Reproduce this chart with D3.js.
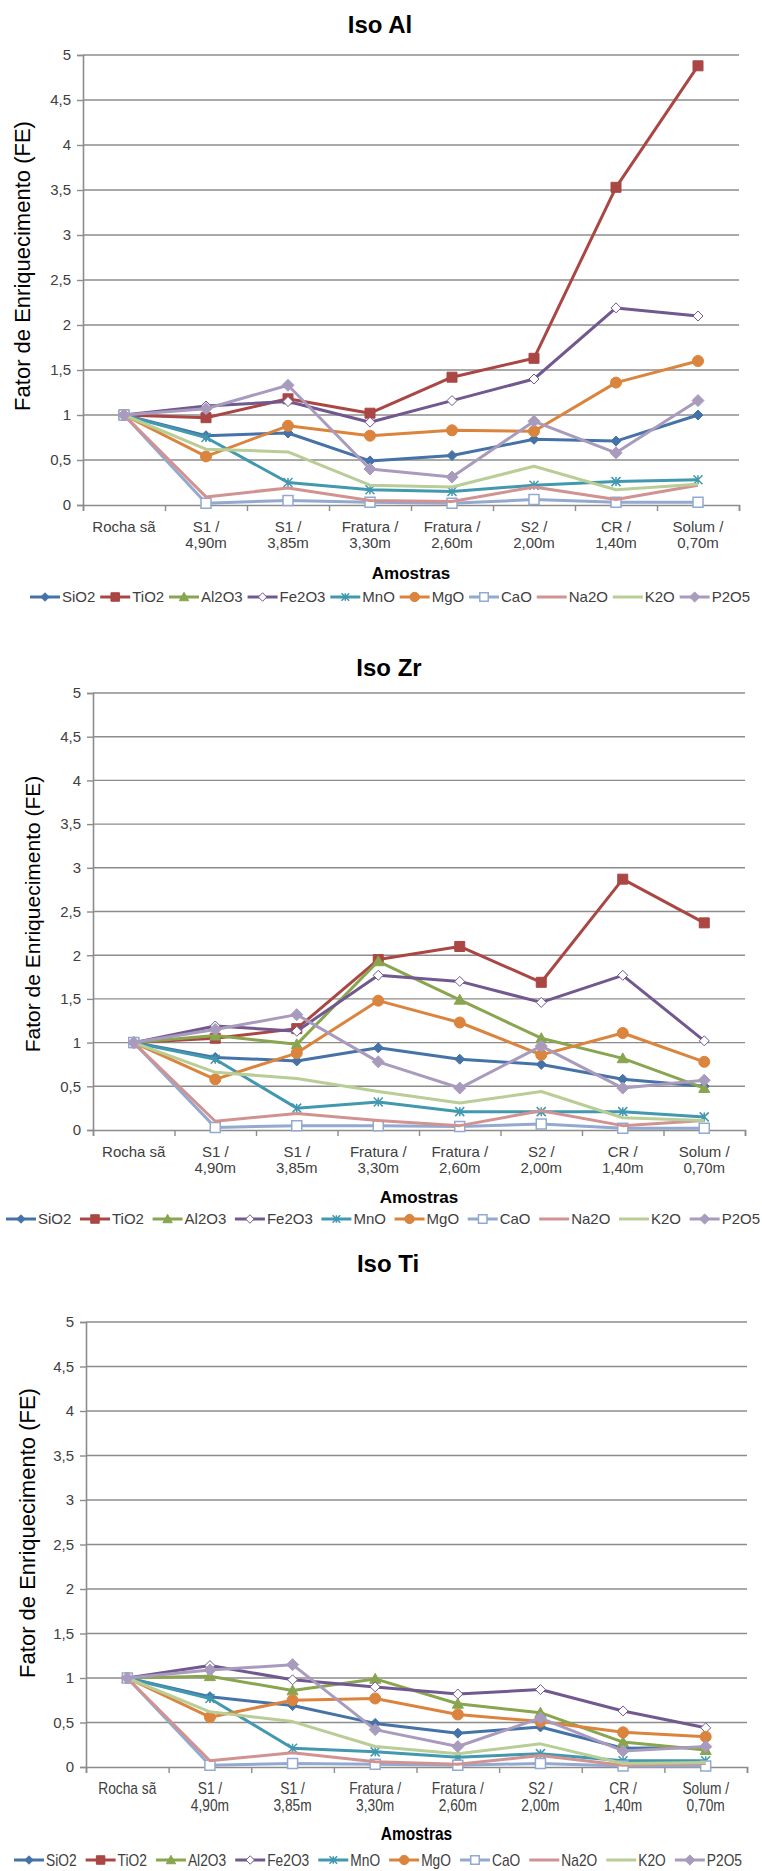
<!DOCTYPE html>
<html>
<head>
<meta charset="utf-8">
<script src="https://cdn.jsdelivr.net/npm/d3@7"></script>
<style>
  body { margin: 0; background: #fff; }
  svg { display: block; }
  text { font-family: "Liberation Sans", Arial, Helvetica, sans-serif; }
</style>
</head>
<body>
<svg id="fig" width="762" height="1871"></svg>
<script>
// ---- data ----
const categories = ["Rocha sã", "S1 /|4,90m", "S1 /|3,85m", "Fratura /|3,30m",
                    "Fratura /|2,60m", "S2 /|2,00m", "CR /|1,40m", "Solum /|0,70m"];
const seriesNames = ["SiO2", "TiO2", "Al2O3", "Fe2O3", "MnO", "MgO", "CaO", "Na2O", "K2O", "P2O5"];
const yTickValues = [0, 0.5, 1, 1.5, 2, 2.5, 3, 3.5, 4, 4.5, 5];
const chartTitles = ["Iso Al", "Iso Zr", "Iso Ti"];
const yAxisTitle = "Fator de Enriquecimento (FE)";
const xAxisTitle = "Amostras";

// enrichment factors, one row per oxide (same order as seriesNames)
const isoAlValues = [
  [1, 0.77, 0.80, 0.49, 0.55, 0.73, 0.71, 1.00],
  [1, 0.97, 1.18, 1.02, 1.42, 1.63, 3.53, 4.88],
  [null, null, null, null, null, null, null, null],
  [1, 1.10, 1.15, 0.92, 1.16, 1.40, 2.19, 2.10],
  [1, 0.75, 0.25, 0.17, 0.15, 0.22, 0.26, 0.28],
  [1, 0.54, 0.88, 0.77, 0.83, 0.82, 1.36, 1.60],
  [1, 0.02, 0.05, 0.03, 0.02, 0.06, 0.03, 0.03],
  [1, 0.09, 0.19, 0.05, 0.04, 0.20, 0.06, 0.22],
  [1, 0.62, 0.59, 0.22, 0.20, 0.43, 0.17, 0.23],
  [1, 1.07, 1.33, 0.40, 0.31, 0.93, 0.58, 1.16]
];
const isoZrValues = [
  [1, 0.83, 0.79, 0.94, 0.81, 0.75, 0.58, 0.50],
  [1, 1.05, 1.16, 1.95, 2.10, 1.69, 2.87, 2.37],
  [1, 1.08, 0.98, 1.93, 1.49, 1.05, 0.82, 0.48],
  [1, 1.19, 1.13, 1.77, 1.70, 1.46, 1.77, 1.02],
  [1, 0.81, 0.25, 0.32, 0.21, 0.21, 0.21, 0.15],
  [1, 0.58, 0.88, 1.48, 1.23, 0.86, 1.11, 0.78],
  [1, 0.03, 0.05, 0.05, 0.04, 0.07, 0.02, 0.02],
  [1, 0.10, 0.19, 0.11, 0.05, 0.22, 0.05, 0.11],
  [1, 0.66, 0.59, 0.44, 0.31, 0.44, 0.14, 0.11],
  [1, 1.15, 1.32, 0.78, 0.48, 0.96, 0.48, 0.57]
];
const isoTiValues = [
  [1, 0.79, 0.69, 0.49, 0.38, 0.45, 0.21, 0.22],
  [null, null, null, null, null, null, null, null],
  [1, 1.02, 0.86, 0.99, 0.71, 0.61, 0.28, 0.19],
  [1, 1.14, 0.98, 0.90, 0.82, 0.87, 0.63, 0.44],
  [1, 0.77, 0.21, 0.17, 0.11, 0.15, 0.07, 0.07],
  [1, 0.56, 0.75, 0.77, 0.59, 0.51, 0.39, 0.34],
  [1, 0.02, 0.04, 0.03, 0.02, 0.04, 0.01, 0.01],
  [1, 0.07, 0.16, 0.06, 0.03, 0.13, 0.02, 0.04],
  [1, 0.62, 0.51, 0.23, 0.15, 0.26, 0.04, 0.05],
  [1, 1.09, 1.15, 0.42, 0.23, 0.55, 0.18, 0.23]
];

// ---- styling ----
const seriesStyle = [
  { color: "#4572A7", marker: "diamond", size: 5,   fill: "color" },
  { color: "#AA4643", marker: "square",  size: 5,   fill: "color" },
  { color: "#89A54E", marker: "triangle",size: 5.5, fill: "color" },
  { color: "#71588F", marker: "diamond", size: 5,   fill: "white", sw: 1 },
  { color: "#4198AF", marker: "star",    size: 4.5, fill: "none",  sw: 1.5 },
  { color: "#DB843D", marker: "circle",  size: 5.5, fill: "color" },
  { color: "#93A9CF", marker: "square",  size: 5,   fill: "white", sw: 1.5 },
  { color: "#D19392", marker: null },
  { color: "#B9CD96", marker: null },
  { color: "#A99BBD", marker: "diamond", size: 6,   fill: "color" }
];

// squeeze = horizontal text compression (1 = normal width)
const layouts = [
  { left: 83, right: 739, top: 55, bottom: 505, titleX: 380, titleY: 25,
    yTitleX: 22, yTitleY: 266, yTitleSize: 22, lab1: 527, lab2: 543,
    xTitleY: 573, legendY: 597, legendX0: 30, legendX1: 750, squeeze: 1, fs: 15 },
  { left: 93, right: 745, top: 693, bottom: 1130, titleX: 389, titleY: 668,
    yTitleX: 33, yTitleY: 914, yTitleSize: 21, lab1: 1152, lab2: 1168,
    xTitleY: 1197, legendY: 1219, legendX0: 6, legendX1: 760, squeeze: 1, fs: 15 },
  { left: 86, right: 747, top: 1322, bottom: 1767, titleX: 388, titleY: 1264,
    yTitleX: 27, yTitleY: 1533, yTitleSize: 22, lab1: 1788, lab2: 1805,
    xTitleY: 1834, legendY: 1860, legendX0: 14, legendX1: 742, squeeze: 0.86, fs: 16 }
];

const GRID = "#8c8c8c";
const svg = d3.select("#fig");

function markerPath(type, s) {
  switch (type) {
    case "diamond":  return `M0,${-s}L${s},0L0,${s}L${-s},0Z`;
    case "square":   return `M${-s},${-s}H${s}V${s}H${-s}Z`;
    case "triangle": return `M0,${-s}L${s},${s * 0.8}L${-s},${s * 0.8}Z`;
    case "circle":   return d3.symbol(d3.symbolCircle, Math.PI * s * s)();
    case "star":     return `M${-s},${-s}L${s},${s}M${-s},${s}L${s},${-s}M0,${-s}L0,${s}`;
  }
  return "";
}

function drawMarker(sel, st) {
  if (!st.marker) return;
  sel.append("path")
    .attr("d", markerPath(st.marker, st.size))
    .attr("fill", st.fill === "color" ? st.color : st.fill)
    .attr("stroke", st.color)
    .attr("stroke-width", st.sw || 1);
}

function drawChart(idx, values) {
  const L = layouts[idx];
  const g = svg.append("g");
  const x = d3.scaleBand().domain(d3.range(categories.length)).range([L.left, L.right]);
  const xEdge = d3.scaleLinear().domain([0, categories.length]).range([L.left, L.right]);
  const y = d3.scaleLinear().domain([0, 5]).range([L.bottom, L.top]);

  // horizontal gridlines
  g.append("g").selectAll("line")
    .data(yTickValues.filter(v => v > 0))
    .join("line")
    .attr("x1", L.left).attr("x2", L.right)
    .attr("y1", d => y(d)).attr("y2", d => y(d))
    .attr("stroke", GRID).attr("stroke-width", 1.4);

  // y axis
  const ya = g.append("g").attr("transform", `translate(${L.left},0)`)
    .call(d3.axisLeft(y).tickValues(yTickValues).tickSize(6).tickPadding(6)
      .tickFormat(d => String(d).replace(".", ",")));
  ya.select(".domain").attr("stroke", GRID).attr("stroke-width", 1.6);
  ya.selectAll(".tick line").attr("stroke", GRID).attr("stroke-width", 1.4);
  ya.selectAll(".tick text").attr("fill", "#404040").attr("font-size", 15)
    .style("font-family", "'Liberation Sans', Arial, sans-serif");

  // x axis (ticks on category boundaries)
  const xa = g.append("g").attr("transform", `translate(0,${L.bottom})`)
    .call(d3.axisBottom(xEdge).tickValues(d3.range(categories.length + 1)).tickSize(6).tickFormat(""));
  xa.select(".domain").attr("stroke", GRID).attr("stroke-width", 1.6);
  xa.selectAll(".tick line").attr("stroke", GRID).attr("stroke-width", 1.4);

  // category labels
  const lab = g.append("g").selectAll("text")
    .data(categories)
    .join("text")
    .attr("transform", (d, i) => `translate(${x(i) + x.bandwidth() / 2},0) scale(${L.squeeze},1)`)
    .attr("text-anchor", "middle")
    .attr("font-size", L.fs)
    .attr("fill", "#404040");
  lab.each(function (d) {
    const t = d3.select(this);
    d.split("|").forEach((p, k) => {
      t.append("tspan")
        .attr("x", 0)
        .attr("y", (k === 0 ? L.lab1 : L.lab2))
        .attr("dy", "0.35em")
        .text(p);
    });
  });

  // series lines then markers
  const line = d3.line()
    .defined(d => d != null)
    .x((d, i) => x(i) + x.bandwidth() / 2)
    .y(d => y(d));

  values.forEach((vals, s) => {
    const st = seriesStyle[s];
    const sg = g.append("g");
    sg.append("path")
      .attr("d", line(vals))
      .attr("fill", "none")
      .attr("stroke", st.color)
      .attr("stroke-width", 3)
      .attr("stroke-linejoin", "round");
    if (st.marker) {
      vals.forEach((v, i) => {
        if (v == null) return;
        const m = sg.append("g").attr("transform", `translate(${x(i) + x.bandwidth() / 2},${y(v)})`);
        drawMarker(m, st);
      });
    }
  });

  // titles
  g.append("text").attr("x", L.titleX).attr("y", L.titleY).attr("dy", "0.35em")
    .attr("text-anchor", "middle").attr("font-size", 24).attr("font-weight", "bold")
    .text(chartTitles[idx]);
  g.append("text")
    .attr("transform", `translate(${L.yTitleX},${L.yTitleY}) rotate(-90)`)
    .attr("dy", "0.35em").attr("text-anchor", "middle")
    .attr("font-size", L.yTitleSize).attr("fill", "#000")
    .text(yAxisTitle);
  g.append("text")
    .attr("transform", `translate(${(L.left + L.right) / 2},${L.xTitleY}) scale(${L.squeeze},1)`)
    .attr("dy", "0.35em")
    .attr("text-anchor", "middle").attr("font-size", L.fs + 2).attr("font-weight", "bold")
    .text(xAxisTitle);

  // legend
  const leg = g.append("g");
  const items = seriesNames.map((name, s) => {
    const it = leg.append("g");
    const st = seriesStyle[s];
    it.append("line").attr("x1", 0).attr("x2", 30).attr("y1", 0).attr("y2", 0)
      .attr("stroke", st.color).attr("stroke-width", 3);
    if (st.marker) {
      const m = it.append("g").attr("transform", "translate(15,0)");
      drawMarker(m, Object.assign({}, st, { size: st.size * 0.85 }));
    }
    const t = it.append("text")
      .attr("transform", `translate(32,0) scale(${L.squeeze},1)`)
      .attr("dy", "0.35em")
      .attr("font-size", L.fs).attr("fill", "#404040").text(name);
    return { it, w: 32 + t.node().getComputedTextLength() * L.squeeze };
  });
  const totalW = d3.sum(items, d => d.w);
  const gap = (L.legendX1 - L.legendX0 - totalW) / (items.length - 1);
  let cx = L.legendX0;
  items.forEach(d => {
    d.it.attr("transform", `translate(${cx},${L.legendY})`);
    cx += d.w + gap;
  });
}

drawChart(0, isoAlValues);
drawChart(1, isoZrValues);
drawChart(2, isoTiValues);
</script>
</body>
</html>
